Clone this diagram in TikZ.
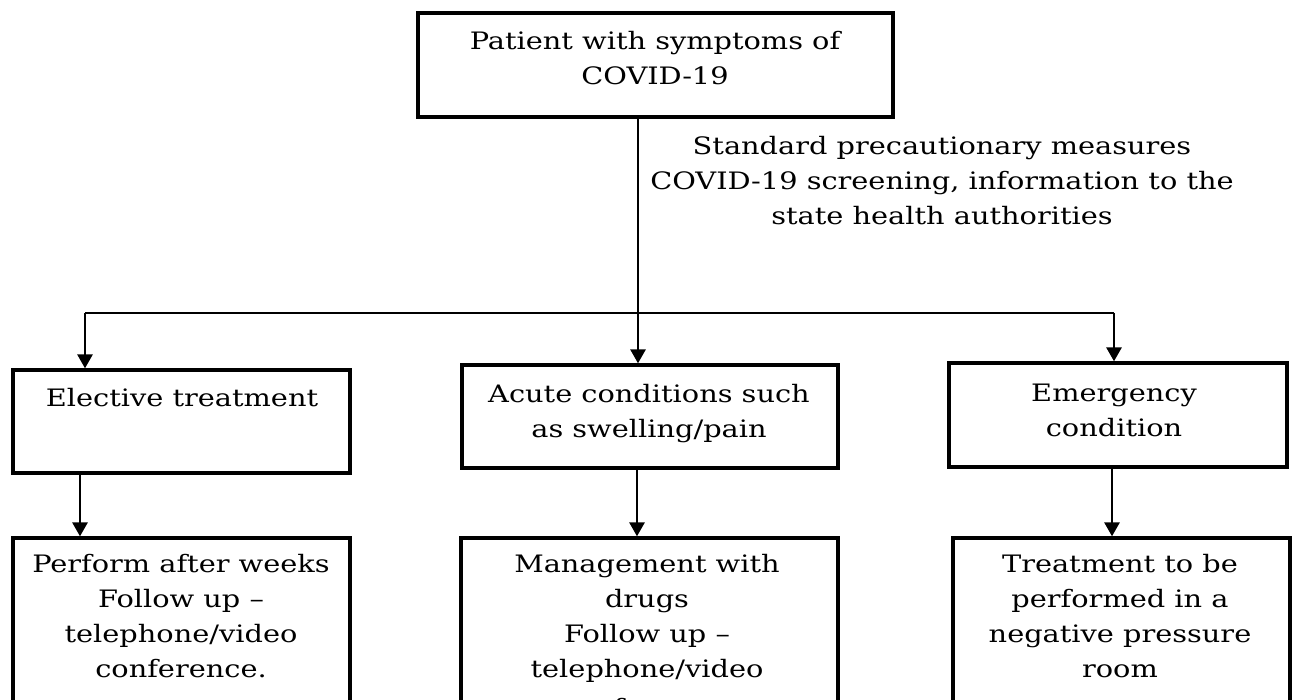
\documentclass[tikz,border=0pt]{standalone}
\usepackage{fontspec}
\setmainfont[FakeStretch=1.2]{DejaVu Serif}
\usetikzlibrary{arrows.meta}
\begin{document}
\begin{tikzpicture}[x=1pt,y=-1pt,
  box/.style={draw, line width=3.3pt, inner sep=0pt, rectangle},
  txt/.style={inner sep=0pt, align=center, anchor=north, font=\fontsize{24}{35}\selectfont},
  conn/.style={line width=2.8pt, -{Triangle[width=15pt,length=14pt]}},
  seg/.style={line width=2.8pt}]
\useasboundingbox (0,0) rectangle (1295,700);
\clip (0,0) rectangle (1295,700);
\fill[white] (0,0) rectangle (1295,700);
% boxes
\node[box, minimum width=475pt, minimum height=104pt] (top) at (655.5,65) {};
\node[box, minimum width=337pt, minimum height=103pt] (elec) at (181.5,421.5) {};
\node[box, minimum width=376pt, minimum height=103pt] (acute) at (650,416.5) {};
\node[box, minimum width=338pt, minimum height=104pt] (emer) at (1118,415) {};
\node[box, minimum width=337pt, minimum height=200pt] (perf) at (181.5,638) {};
\node[box, minimum width=377pt, minimum height=200pt] (mgmt) at (649.5,638) {};
\node[box, minimum width=337pt, minimum height=200pt] (treat) at (1121.5,638) {};
% texts
\node[txt] (ttop) at (655,31) {Patient with symptoms of\\COVID-19};
\node[txt] (lbl) at (942,136) {Standard precautionary measures\\COVID-19 screening, information to the\\state health authorities};
\node[txt] (telec) at (182,388) {Elective treatment};
\node[txt] (tacute) at (649,384) {Acute conditions such\\as swelling/pain};
\node[txt] (temer) at (1114,384) {Emergency\\condition};
\node[txt] (tperf) at (181,554) {Perform after weeks\\Follow up \textendash\\telephone/video\\conference.};
\node[txt] (tmgmt) at (647,554) {Management with\\drugs\\Follow up \textendash\\telephone/video\\[4pt]conference.};
\node[txt] (ttreat) at (1120,554) {Treatment to be\\performed in a\\negative pressure\\room};
% connectors
\coordinate (j) at (638,313);
\coordinate (jl) at (85,313);
\coordinate (jr) at (1114,313);
\draw[conn] (top.south -| j) -- (acute.north -| j);
\draw[seg] (jl) -- (jr);
\draw[conn] (jl) -- (elec.north -| jl);
\draw[conn] (jr) -- (emer.north -| jr);
\coordinate (dl) at (80,500);
\coordinate (dm) at (637,500);
\coordinate (dr) at (1112,500);
\draw[conn] (elec.south -| dl) -- (perf.north -| dl);
\draw[conn] (acute.south -| dm) -- (mgmt.north -| dm);
\draw[conn] (emer.south -| dr) -- (treat.north -| dr);
\end{tikzpicture}
\end{document}
